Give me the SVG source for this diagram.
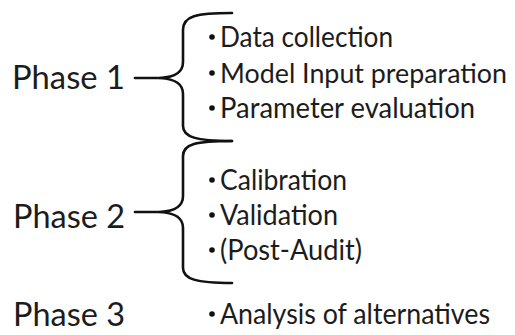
<svg xmlns="http://www.w3.org/2000/svg" width="515" height="335" viewBox="0 0 515 335">
<style>
.ph{font-family:Lato,"Open Sans","Liberation Sans",sans-serif;font-size:33px;fill:#1c1c1c}
.it{font-family:Lato,"Open Sans","Liberation Sans",sans-serif;font-size:28.5px;fill:#1c1c1c}
.sm{font-size:27px}
.br{fill:none;stroke:#111;stroke-width:2.6;stroke-linecap:round;stroke-linejoin:round}
.dot{fill:#111}
</style>
<rect width="515" height="335" fill="#fff"/>
<g id="connectors">
<path class="br" d="M232,13 C196,13 183,16 183,30 L183,62 C183,72 176,77 160,78 C176,79 183,84 183,94 L183,126 C183,137 196,141 232,141"/>
<path class="br" d="M135,78 L160,78"/>
<path class="br" d="M232,141 C196,141 183,144 183,156 L183,196 C183,206 176,211 160,212 C176,213 183,218 183,228 L183,268 C183,279 196,283 232,283"/>
<path class="br" d="M135,212 L160,212"/>
</g>
<g id="phase1">
<text class="ph" x="12" y="89" textLength="113" lengthAdjust="spacingAndGlyphs">Phase 1</text>
</g>
<g id="phase1-items">
<circle class="dot" cx="212" cy="37" r="2.8"/>
<text class="it" x="220" y="47" textLength="173" lengthAdjust="spacingAndGlyphs">Data collection</text>
<circle class="dot" cx="212" cy="73" r="2.8"/>
<text class="it sm" x="220" y="83" textLength="287" lengthAdjust="spacingAndGlyphs">Model Input preparation</text>
<circle class="dot" cx="212" cy="108" r="2.8"/>
<text class="it" x="220" y="118" textLength="255" lengthAdjust="spacingAndGlyphs">Parameter evaluation</text>
</g>
<g id="phase2">
<text class="ph" x="13" y="228" textLength="112" lengthAdjust="spacingAndGlyphs">Phase 2</text>
</g>
<g id="phase2-items">
<circle class="dot" cx="212" cy="180" r="2.8"/>
<text class="it" x="220" y="190" textLength="127" lengthAdjust="spacingAndGlyphs">Calibration</text>
<circle class="dot" cx="212" cy="215" r="2.8"/>
<text class="it" x="220" y="225" textLength="118" lengthAdjust="spacingAndGlyphs">Validation</text>
<circle class="dot" cx="212" cy="250" r="2.8"/>
<text class="it" x="220" y="260" textLength="142" lengthAdjust="spacingAndGlyphs">(Post-Audit)</text>
</g>
<g id="phase3">
<text class="ph" x="13" y="326" textLength="112" lengthAdjust="spacingAndGlyphs">Phase 3</text>
</g>
<g id="phase3-items">
<circle class="dot" cx="212" cy="314" r="2.8"/>
<text class="it" x="220" y="324" textLength="270" lengthAdjust="spacingAndGlyphs">Analysis of alternatives</text>
</g>
</svg>
